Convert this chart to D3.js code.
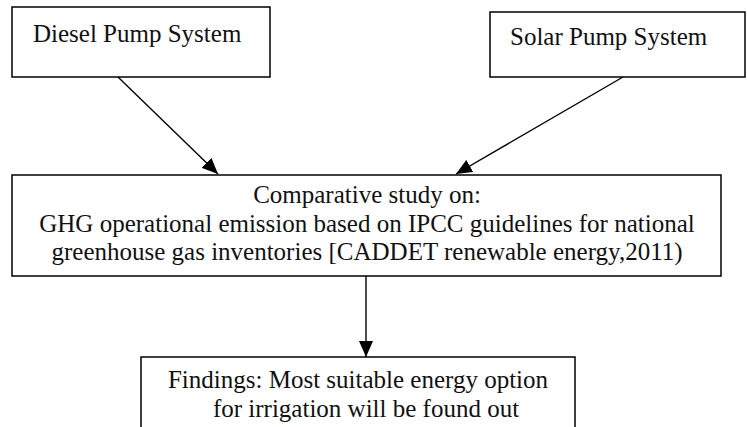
<!DOCTYPE html>
<html>
<head>
<meta charset="utf-8">
<script src="https://d3js.org/d3.v7.min.js"></script>
<style>
  body { margin: 0; background: white; }
  svg { display: block; }
  .box { fill: white; stroke: black; stroke-width: 1.5px; }
  .label { font-family: "Liberation Serif", "Times New Roman", serif; fill: #111; font-size: 25px; }
  .link { stroke: black; stroke-width: 1.4px; fill: none; }
</style>
</head>
<body>
<div id="chart"></div>
<script>
// node labels (one entry per line)
var dieselLines = ["Diesel Pump System"];
var solarLines = ["Solar Pump System"];
var studyLines = ["Comparative study on:",
  "GHG operational emission based on IPCC guidelines for national",
  "greenhouse gas inventories [CADDET renewable energy,2011)"];
var findingLines = ["Findings: Most suitable energy option",
  "for irrigation will be found out"];

var nodeNames = ["diesel", "solar", "study", "findings"];
var links = [["diesel", "study"], ["solar", "study"], ["study", "findings"]];

var width = 747, height = 427;

// layout
var layout = {
  diesel:   {x: 12,  y: 7,   w: 258, h: 70,  lines: dieselLines, anchor: "start", tx: [33], ty: 42, lh: 28},
  solar:    {x: 490, y: 12,  w: 255, h: 65,  lines: solarLines, anchor: "start", tx: [510], ty: 45, lh: 28},
  study:    {x: 12,  y: 175, w: 709, h: 101, lines: studyLines, anchor: "middle", tx: [367, 367, 367], ty: 203, lh: 28.5},
  findings: {x: 141, y: 357, w: 434, h: 100, lines: findingLines, anchor: "middle", tx: [358, 366], ty: 388, lh: 29}
};
var linkEnds = {
  "diesel-study":   {x1: 118, y1: 77, x2: 218, y2: 174},
  "solar-study":    {x1: 623, y1: 77, x2: 456, y2: 174},
  "study-findings": {x1: 366, y1: 276, x2: 366, y2: 357}
};

var svg = d3.select("#chart").append("svg")
  .attr("width", width)
  .attr("height", height);

svg.append("defs").append("marker")
  .attr("id", "head")
  .attr("viewBox", "0 0 10 10")
  .attr("refX", 10).attr("refY", 5)
  .attr("markerWidth", 16).attr("markerHeight", 14)
  .attr("markerUnits", "userSpaceOnUse")
  .attr("orient", "auto")
  .attr("preserveAspectRatio", "none")
  .append("path")
  .attr("d", "M0,0 L10,5 L0,10 Z")
  .attr("fill", "black");

var nodes = svg.selectAll(".node")
  .data(nodeNames)
  .enter().append("g")
  .attr("class", "node");

nodes.append("rect")
  .attr("class", "box")
  .attr("x", function(d) { return layout[d].x; })
  .attr("y", function(d) { return layout[d].y; })
  .attr("width", function(d) { return layout[d].w; })
  .attr("height", function(d) { return layout[d].h; });

nodes.each(function(d) {
  var L = layout[d];
  d3.select(this).selectAll("text")
    .data(L.lines)
    .enter().append("text")
    .attr("class", "label")
    .attr("x", function(t, i) { return L.tx[i]; })
    .attr("y", function(t, i) { return L.ty + i * L.lh; })
    .attr("text-anchor", L.anchor)
    .text(function(t) { return t; });
});

svg.selectAll(".link")
  .data(links)
  .enter().append("line")
  .attr("class", "link")
  .attr("x1", function(d) { return linkEnds[d.join("-")].x1; })
  .attr("y1", function(d) { return linkEnds[d.join("-")].y1; })
  .attr("x2", function(d) { return linkEnds[d.join("-")].x2; })
  .attr("y2", function(d) { return linkEnds[d.join("-")].y2; })
  .attr("marker-end", "url(#head)");
</script>
</body>
</html>
